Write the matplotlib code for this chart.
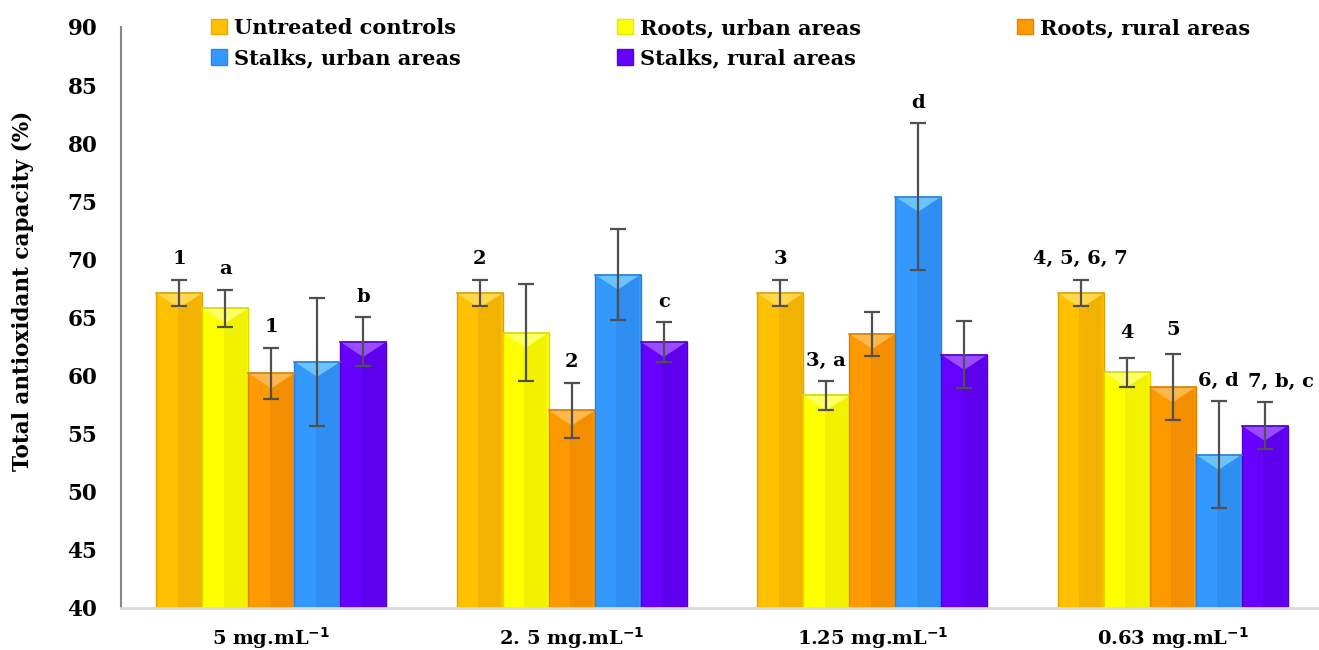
import matplotlib
matplotlib.use("Agg")
import matplotlib.pyplot as plt
from matplotlib.patches import Polygon, Patch
import numpy as np

plt.rcParams['font.family'] = ['DejaVu Serif']
plt.rcParams['font.weight'] = 'bold'

groups = ["5 mg.mL$^{\\mathbf{-1}}$", "2. 5 mg.mL$^{\\mathbf{-1}}$",
          "1.25 mg.mL$^{\\mathbf{-1}}$", "0.63 mg.mL$^{\\mathbf{-1}}$"]
series = ["Untreated controls", "Roots, urban areas", "Roots, rural areas",
          "Stalks, urban areas", "Stalks, rural areas"]

untreated = [67.1, 67.1, 67.1, 67.1]
roots_urban = [65.8, 63.7, 58.3, 60.3]
roots_rural = [60.2, 57.0, 63.6, 59.0]
stalks_urban = [61.2, 68.7, 75.4, 53.2]
stalks_rural = [62.9, 62.9, 61.8, 55.7]

err_untreated = [1.15, 1.15, 1.15, 1.15]
err_roots_urban = [1.6, 4.2, 1.25, 1.25]
err_roots_rural = [2.2, 2.4, 1.9, 2.85]
err_stalks_urban = [5.5, 3.95, 6.35, 4.6]
err_stalks_rural = [2.1, 1.7, 2.9, 2.0]

labels_untreated = ["1", "2", "3", "4, 5, 6, 7"]
labels_roots_urban = ["a", "", "3, a", "4"]
labels_roots_rural = ["1", "2", "", "5"]
labels_stalks_urban = ["", "", "d", "6, d"]
labels_stalks_rural = ["b", "c", "", "7, b, c"]

values = [untreated, roots_urban, roots_rural, stalks_urban, stalks_rural]
errors = [err_untreated, err_roots_urban, err_roots_rural, err_stalks_urban, err_stalks_rural]
labels = [labels_untreated, labels_roots_urban, labels_roots_rural,
          labels_stalks_urban, labels_stalks_rural]

base_colors = ["#FFC000", "#FFFF00", "#FF9900", "#3399FF", "#6600FF"]
dark_colors = ["#E8AA00", "#E8E800", "#E88600", "#2A86E8", "#5800E0"]
light_colors = ["#FFD84D", "#FFFF66", "#FFB84D", "#6CC4FF", "#9A4DFF"]
edge_colors = ["#D9A300", "#D9D900", "#D98200", "#2B7FD9", "#5200CC"]

fig = plt.figure(figsize=(13.19, 6.5), dpi=100)
ax = fig.add_axes([121/1319, 42/650, 1202/1319, 581/650])

x = np.arange(len(groups))
w = 0.153
offsets = (np.arange(len(series)) - 2) * w

for i in range(len(series)):
    xs = x + offsets[i]
    bars = ax.bar(xs, values[i], w, bottom=0, color=base_colors[i],
                  edgecolor=edge_colors[i], linewidth=1.0, zorder=2)
    # darker right part for bevel look
    ax.bar(xs + w * 0.22, values[i], w * 0.5, color=dark_colors[i],
           linewidth=0, zorder=2.1, alpha=0.55)
    for b in bars:
        x0 = b.get_x(); x1 = x0 + b.get_width(); top = b.get_height()
        xc = (x0 + x1) / 2
        d = 1.3
        tri = Polygon([(x0, top), (x1, top), (xc, top - d)], closed=True,
                      facecolor=light_colors[i], edgecolor='none', zorder=2.2)
        ax.add_patch(tri)
        ax.plot([x0, x1], [top, top], color=edge_colors[i], lw=1.2, zorder=2.3)
    ax.errorbar(xs, values[i], yerr=errors[i], fmt='none', ecolor='#505050',
                elinewidth=1.6, capsize=6, capthick=1.6, zorder=3)
    for j in range(len(groups)):
        lab = labels[i][j]
        if lab:
            dx = 12 if lab == "7, b, c" else 0
            dy = 14 if lab in ("4", "5") else 11
            ax.annotate(lab, (xs[j], values[i][j] + errors[i][j]),
                        xytext=(dx, dy), textcoords='offset points',
                        ha='center', va='baseline', fontsize=14,
                        fontweight='bold', color='black', zorder=4)

ax.set_ylim(40, 90)
ax.set_xlim(-0.5, 3.5)
ax.set_yticks(np.arange(40, 91, 5))
ax.set_xticks(x)
ax.set_xticklabels(groups, fontsize=14, fontweight='bold')
ax.tick_params(axis='y', length=0, pad=17, labelsize=15.5)
ax.tick_params(axis='x', length=0, pad=12)
for t in ax.get_yticklabels():
    t.set_fontweight('bold')
ax.set_ylabel("Total antioxidant capacity (%)", fontsize=15.5, fontweight='bold')
ax.yaxis.set_label_coords(-0.0815, 0.5456)
ax.yaxis.label.set_va('center')

for s in ['top', 'right']:
    ax.spines[s].set_visible(False)
ax.spines['left'].set_color('#888888')
ax.spines['left'].set_linewidth(1.5)
ax.spines['bottom'].set_color('#D9D9D9')
ax.spines['bottom'].set_linewidth(2)

handles = [Patch(facecolor=base_colors[i], edgecolor=dark_colors[i]) for i in range(5)]
order = [0, 3, 1, 4, 2]
leg = ax.legend([handles[k] for k in order], [series[k] for k in order],
                ncol=3, loc='upper left', bbox_to_anchor=(0.068, 1.03),
                frameon=False, handlelength=0.75, handleheight=0.75,
                handletextpad=0.35, columnspacing=7.5, labelspacing=0.5,
                borderaxespad=0, prop={'weight': 'bold', 'size': 15})

fig.savefig("out.png", dpi=100)
